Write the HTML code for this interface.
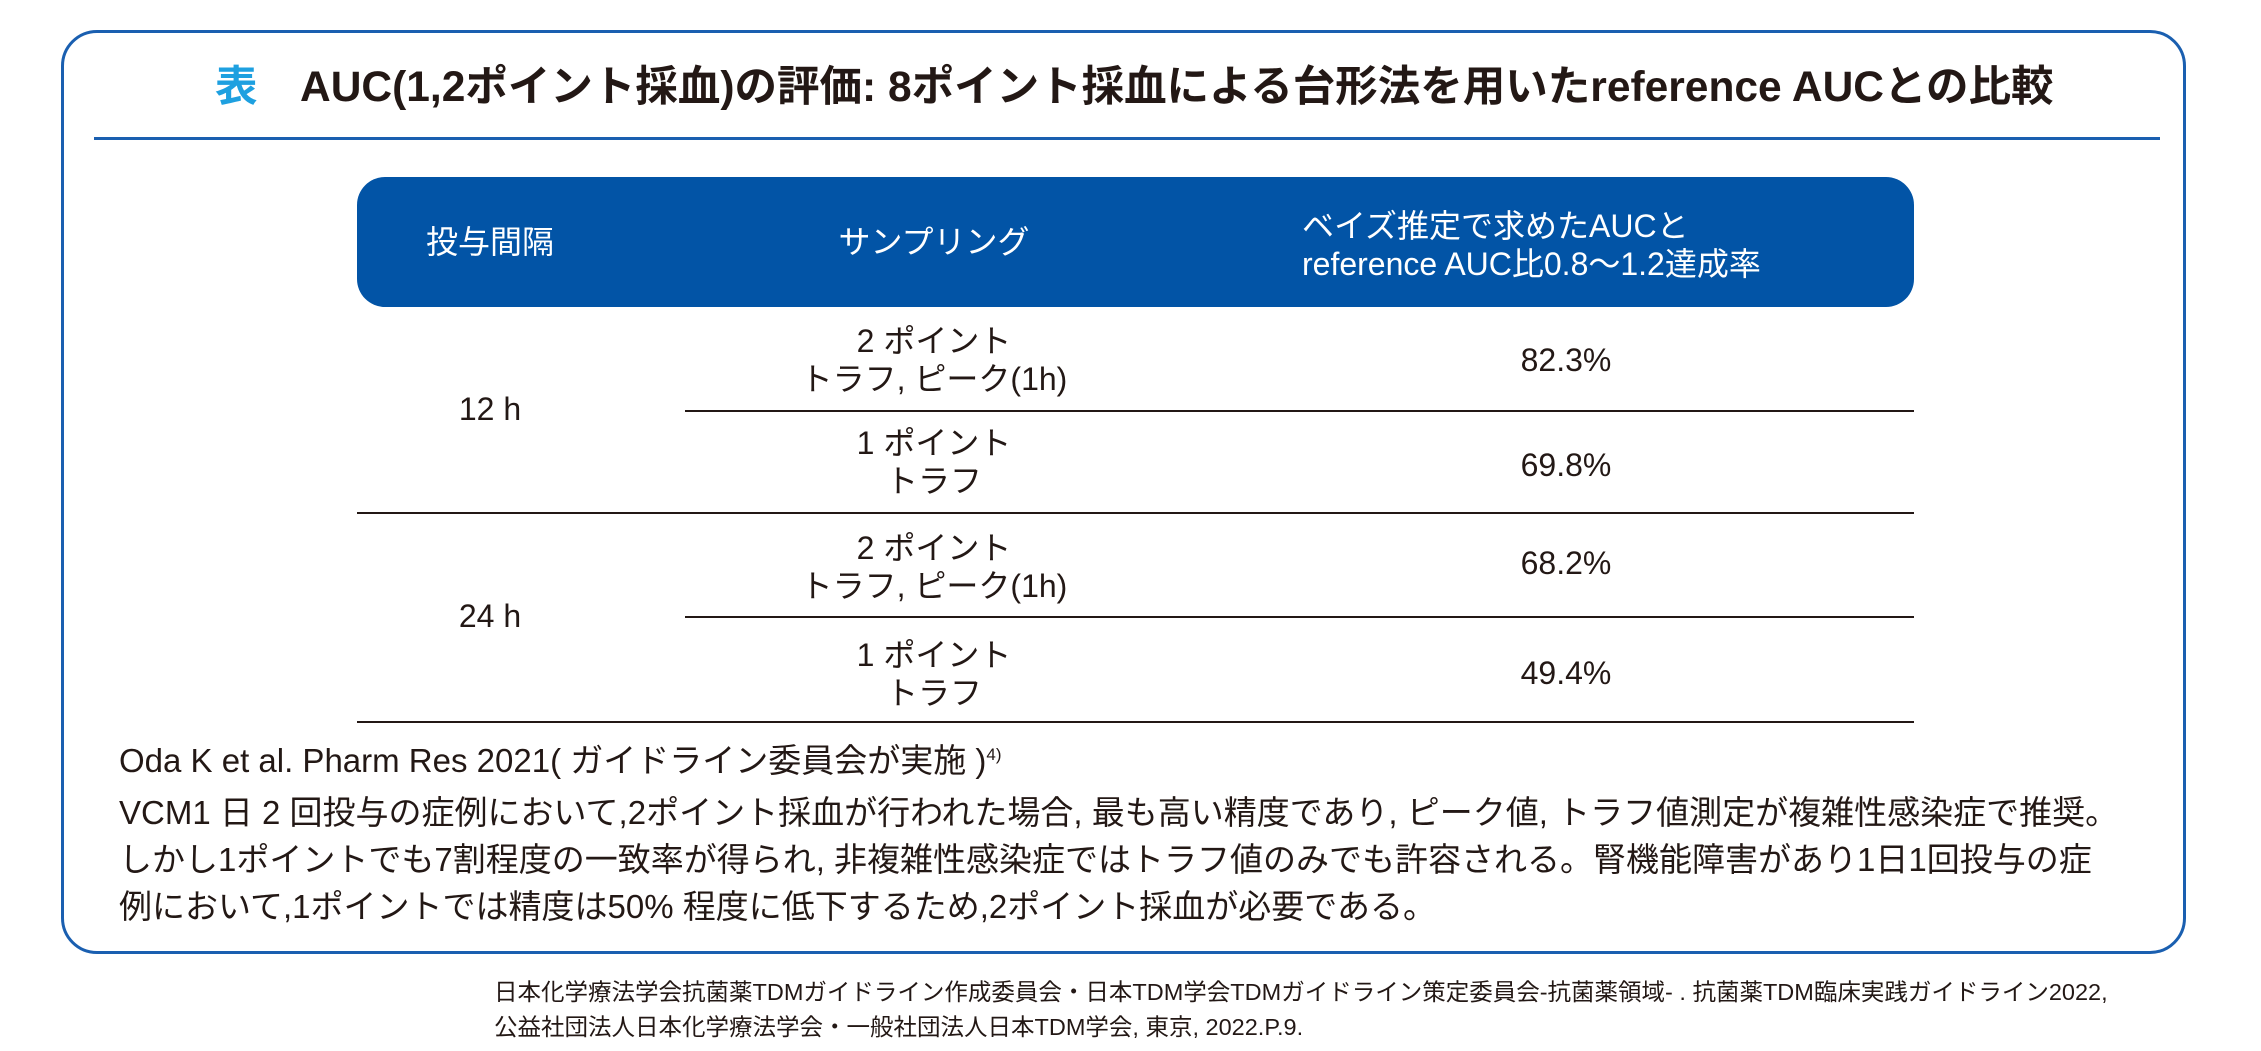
<!DOCTYPE html>
<html><head><meta charset="utf-8">
<style>
*{margin:0;padding:0;box-sizing:border-box}
body{width:2261px;height:1051px;background:#fff;position:relative;overflow:hidden;font-family:"Liberation Sans","Noto Sans CJK JP",sans-serif;color:#231815}
.abs{position:absolute;white-space:nowrap}
.box{position:absolute;left:61px;top:30px;width:2125px;height:924px;border:3px solid #1a5fb0;border-radius:36px}
.title{left:215px;top:60px;font-size:42.5px;font-weight:bold;line-height:56px}
.tline{position:absolute;left:94px;top:137px;width:2066px;height:3px;background:#1a5fb0}
.hdr{position:absolute;left:357px;top:177px;width:1557px;height:130px;background:#0254a6;border-radius:28px}
.ht{color:#fff;font-size:32px;line-height:38px}
.c{transform:translateX(-50%);text-align:center}
.cell{font-size:32px;line-height:38px}
.hl{position:absolute;height:2px;background:#231815}
.note{left:119px;font-size:33px;line-height:44px}
.foot{left:494px;font-size:23.5px;line-height:35px}
</style></head><body>
<div class="box"></div>
<div class="abs title"><span style="color:#1ea0e0">表</span>　AUC(1,2ポイント採血)の評価: 8ポイント採血による台形法を用いたreference AUCとの比較</div>
<div class="tline"></div>
<div class="hdr"></div>
<div class="abs ht c" style="left:490px;top:223px">投与間隔</div>
<div class="abs ht c" style="left:934px;top:223px">サンプリング</div>
<div class="abs ht" style="left:1302px;top:207px">ベイズ推定で求めたAUCと<br>reference AUC比0.8～1.2達成率</div>

<div class="abs cell c" style="left:934px;top:322px">2 ポイント<br>トラフ, ピーク(1h)</div>
<div class="abs cell c" style="left:490px;top:390px">12 h</div>
<div class="abs cell c" style="left:1566px;top:341px">82.3%</div>
<div class="hl" style="left:685px;top:410px;width:1229px"></div>
<div class="abs cell c" style="left:934px;top:424px">1 ポイント<br>トラフ</div>
<div class="abs cell c" style="left:1566px;top:446px">69.8%</div>
<div class="hl" style="left:357px;top:512px;width:1557px"></div>
<div class="abs cell c" style="left:934px;top:529px">2 ポイント<br>トラフ, ピーク(1h)</div>
<div class="abs cell c" style="left:490px;top:597px">24 h</div>
<div class="abs cell c" style="left:1566px;top:544px">68.2%</div>
<div class="hl" style="left:685px;top:616px;width:1229px"></div>
<div class="abs cell c" style="left:934px;top:636px">1 ポイント<br>トラフ</div>
<div class="abs cell c" style="left:1566px;top:654px">49.4%</div>
<div class="hl" style="left:357px;top:721px;width:1557px"></div>

<div class="abs note" style="top:733px">Oda K et al. Pharm Res 2021( ガイドライン委員会が実施 )<sup style="font-size:17px">4)</sup></div>
<div class="abs note" style="top:791px">VCM1 日 2 回投与の症例において,2ポイント採血が行われた場合, 最も高い精度であり, ピーク値, トラフ値測定が複雑性感染症で推奨。</div>
<div class="abs note" style="top:838px">しかし1ポイントでも7割程度の一致率が得られ, 非複雑性感染症ではトラフ値のみでも許容される。腎機能障害があり1日1回投与の症</div>
<div class="abs note" style="top:885px">例において,1ポイントでは精度は50% 程度に低下するため,2ポイント採血が必要である。</div>

<div class="abs foot" style="top:975px">日本化学療法学会抗菌薬TDMガイドライン作成委員会・日本TDM学会TDMガイドライン策定委員会-抗菌薬領域- . 抗菌薬TDM臨床実践ガイドライン2022,</div>
<div class="abs foot" style="top:1010px">公益社団法人日本化学療法学会・一般社団法人日本TDM学会, 東京, 2022.P.9.</div>
</body></html>
